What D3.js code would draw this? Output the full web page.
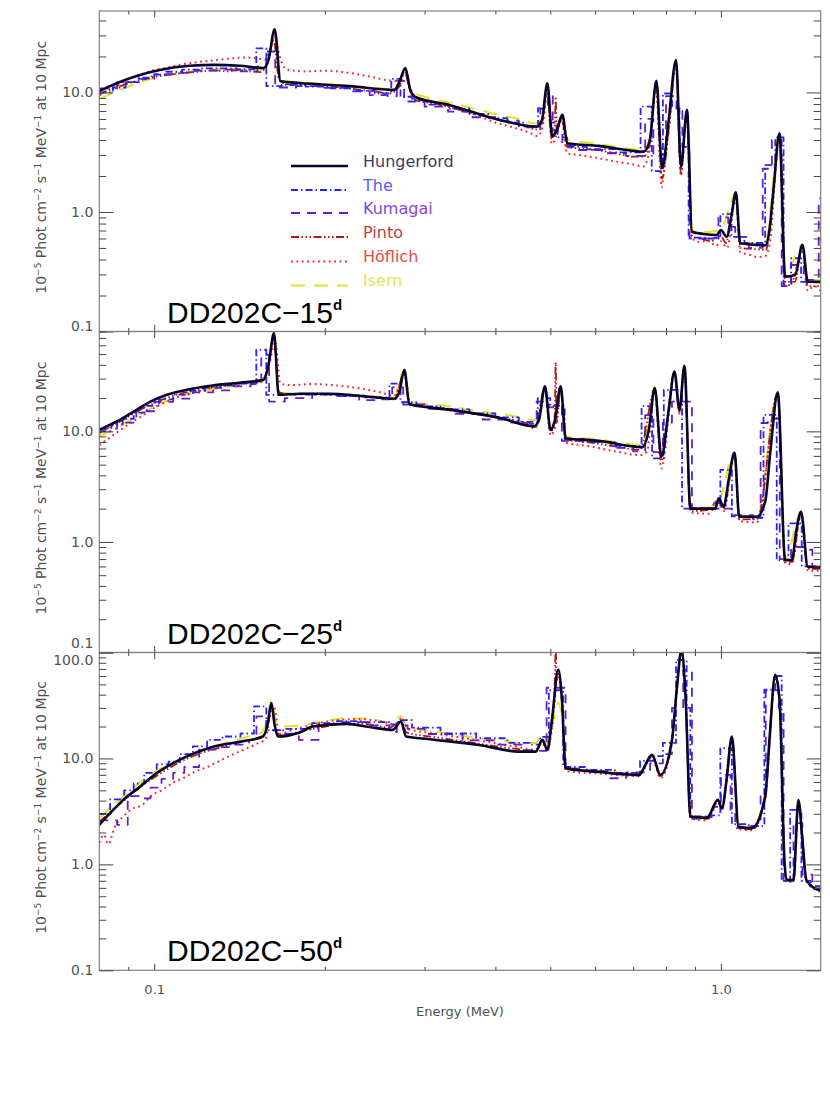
<!DOCTYPE html>
<html><head><meta charset="utf-8">
<script src="https://cdn.jsdelivr.net/npm/d3@7"></script>
<style>body{margin:0;background:#fff}svg{display:block}</style>
</head><body><svg id="c" width="830" height="1107"></svg>
<script>
// ---------------- DATA ----------------
const models = ["Hungerford","The","Kumagai","Pinto","Höflich","Isern"];
const panelNames = ["DD202C\u221215","DD202C\u221225","DD202C\u221250"];
const yMax = [48, 80, 100];
const xTicksMajor = [0.1, 1.0];
const xTicksMinor = [0.09,0.2,0.3,0.4,0.5,0.6,0.7,0.8,0.9];
const xTickLabels = ["0.1","1.0"];

// Panel 1: day 15  [energy MeV, flux]
const hung15 = [[0.080,10.3],[0.0836,11.3],[0.0888,12.7],[0.0944,14.0],[0.1023,15.4],[0.1155,16.7],[0.1279,17.0],[0.1416,16.7],[0.156,16.0],[0.1591,18.7],[0.1631,33.7],[0.1671,12.4],[0.1805,12.0],[0.2211,11.3],[0.2653,10.5],[0.2708,12.2],[0.2774,16.0],[0.283,10.5],[0.2889,9.16],[0.3317,7.86],[0.4061,5.89],[0.4736,5.18],[0.4834,5.89],[0.494,11.9],[0.504,4.27],[0.5136,4.85],[0.525,6.49],[0.5357,3.76],[0.609,3.57],[0.731,3.2],[0.749,4.0],[0.7695,12.5],[0.7874,2.32],[0.809,5.89],[0.8333,18.7],[0.8503,2.39],[0.8711,7.14],[0.889,0.684],[0.932,0.655],[0.9827,0.642],[1.0002,0.707],[1.0234,0.621],[1.0443,0.944],[1.0626,1.46],[1.0818,0.547],[1.197,0.525],[1.2167,0.676],[1.238,1.53],[1.2686,4.56],[1.2983,0.288],[1.352,0.297],[1.3927,0.53],[1.4233,0.261],[1.5,0.26]];
const the15 = [[0.08,10.0],[0.0845,11.0],[0.089,12.2],[0.094,13.3],[0.099,14.1],[0.105,14.9],[0.112,15.5],[0.120,15.9],[0.130,15.9],[0.140,15.6],[0.1514,23.4],[0.1577,11.3],[0.168,11.6],[0.185,11.2],[0.205,10.8],[0.225,10.3],[0.245,9.8],[0.262,13.0],[0.272,9.2],[0.285,8.6],[0.305,7.9],[0.33,7.3],[0.36,6.6],[0.39,6.1],[0.42,5.6],[0.45,5.2],[0.4757,7.4],[0.499,5.6],[0.515,4.2],[0.535,3.5],[0.58,3.35],[0.65,3.15],[0.7215,7.6],[0.755,2.2],[0.79,9.8],[0.82,7.6],[0.845,3.8],[0.877,0.61],[0.94,0.6],[0.998,0.96],[1.044,0.62],[1.10,0.55],[1.197,2.47],[1.247,4.2],[1.29,0.245],[1.33,0.41],[1.385,0.26],[1.5,0.26]];
const kum15 = [[0.08,10.8],[0.086,12.2],[0.093,13.0],[0.100,14.2],[0.108,14.6],[0.118,15.2],[0.13,15.5],[0.142,15.0],[0.152,16.5],[0.1577,22],[0.1635,11.0],[0.178,11.3],[0.20,10.9],[0.22,10.2],[0.24,9.5],[0.258,9.3],[0.268,12.5],[0.276,8.4],[0.30,7.6],[0.33,6.9],[0.36,6.2],[0.40,5.8],[0.44,5.1],[0.47,4.9],[0.48,7.3],[0.495,9.5],[0.505,4.8],[0.525,3.6],[0.56,3.3],[0.62,3.1],[0.68,2.95],[0.735,6.0],[0.76,3.0],[0.80,9.3],[0.835,7.0],[0.855,3.5],[0.88,0.60],[0.95,0.61],[0.99,0.9],[1.03,0.75],[1.06,0.62],[1.12,0.5],[1.185,2.3],[1.23,4.0],[1.28,0.24],[1.33,0.36],[1.4,0.27],[1.488,1.3],[1.5,1.3]];
const pinto15 = [[0.08,9.6],[0.083,10.4],[0.086,11.0],[0.09,11.9],[0.094,12.6],[0.098,13.1],[0.103,13.8],[0.108,14.2],[0.114,14.7],[0.12,14.9],[0.127,15.3],[0.134,15.0],[0.141,15.4],[0.148,15.0],[0.154,14.8],[0.158,17],[0.1625,27],[0.166,13],[0.170,11.8],[0.18,11.5],[0.19,11.8],[0.20,11.2],[0.215,11.0],[0.23,10.5],[0.245,10.2],[0.26,9.8],[0.27,11.0],[0.277,14.5],[0.283,10.0],[0.29,8.6],[0.31,8.1],[0.33,7.6],[0.36,6.8],[0.39,6.2],[0.42,5.7],[0.45,5.3],[0.47,4.9],[0.483,5.5],[0.493,10.8],[0.503,4.1],[0.509,4.6],[0.511,9.2],[0.513,4.8],[0.524,6.0],[0.535,3.5],[0.56,3.4],[0.6,3.3],[0.65,3.1],[0.7,2.9],[0.73,2.9],[0.748,3.6],[0.769,11.8],[0.787,1.9],[0.81,5.2],[0.833,17.8],[0.85,2.1],[0.87,6.8],[0.889,0.62],[0.92,0.6],[0.96,0.57],[1.0,0.63],[1.02,0.55],[1.062,1.38],[1.082,0.5],[1.14,0.49],[1.2,0.48],[1.238,1.45],[1.268,4.4],[1.298,0.26],[1.35,0.26],[1.392,0.5],[1.423,0.24],[1.5,0.24]];
const hoef15 = [[0.08,9.4],[0.083,10.8],[0.087,11.6],[0.09,13.0],[0.095,14.2],[0.1,15.4],[0.106,16.2],[0.112,17.2],[0.12,18.0],[0.128,18.6],[0.136,19.2],[0.145,19.6],[0.152,19.3],[0.157,18.8],[0.1605,24],[0.163,30],[0.1665,20],[0.171,15.6],[0.185,15.0],[0.20,15.2],[0.22,14.6],[0.24,13.6],[0.26,12.6],[0.27,12.5],[0.276,14.6],[0.283,10.8],[0.29,9.1],[0.31,8.4],[0.34,7.3],[0.37,6.5],[0.40,5.6],[0.43,5.1],[0.46,4.6],[0.475,4.3],[0.485,5.3],[0.494,10.0],[0.503,3.7],[0.512,4.3],[0.524,5.9],[0.535,3.1],[0.56,3.0],[0.6,2.85],[0.65,2.65],[0.7,2.5],[0.73,2.4],[0.748,3.3],[0.768,11.2],[0.786,1.6],[0.79,1.9],[0.81,5.0],[0.833,17.2],[0.85,2.0],[0.87,6.4],[0.889,0.6],[0.92,0.56],[0.95,0.58],[0.98,0.52],[1.0,0.57],[1.025,0.5],[1.062,1.3],[1.082,0.46],[1.12,0.44],[1.16,0.42],[1.2,0.43],[1.22,0.55],[1.268,4.2],[1.298,0.24],[1.33,0.25],[1.392,0.48],[1.423,0.22],[1.46,0.24],[1.5,0.22]];
const isern15 = [[0.08,8.8],[0.085,10.0],[0.09,11.2],[0.095,12.3],[0.1,13.2],[0.108,14.3],[0.116,15.0],[0.125,15.5],[0.135,15.8],[0.145,15.6],[0.155,15.5],[0.159,19],[0.163,30],[0.167,12.6],[0.18,12.2],[0.21,11.6],[0.24,10.9],[0.265,10.6],[0.277,15.2],[0.285,10.2],[0.3,9.2],[0.33,8.3],[0.36,7.5],[0.40,6.6],[0.44,6.0],[0.47,5.5],[0.483,6.3],[0.494,12.0],[0.504,4.5],[0.525,6.4],[0.536,4.0],[0.6,3.75],[0.7,3.35],[0.73,3.3],[0.749,4.1],[0.7695,12.3],[0.787,2.4],[0.833,18.2],[0.85,2.4],[0.871,7.0],[0.889,0.7],[0.95,0.68],[1.0,0.72],[1.0626,1.45],[1.082,0.57],[1.197,0.54],[1.2686,4.5],[1.2983,0.3],[1.392,0.53],[1.4233,0.27],[1.5,0.27]];

// Panel 2: day 25
const hung25 = [[0.080,10.3],[0.0836,11.5],[0.087,12.7],[0.0918,15.0],[0.0983,18.5],[0.1053,21.4],[0.1142,23.8],[0.1268,26.0],[0.1416,27.5],[0.156,29.3],[0.1591,40],[0.1627,77.3],[0.1658,21.4],[0.1805,21.9],[0.2039,21.9],[0.2302,21.0],[0.2653,19.7],[0.2708,22.8],[0.2763,36],[0.2819,17.7],[0.3317,15.7],[0.4061,13.3],[0.468,11.1],[0.4775,12.7],[0.4892,25.5],[0.5005,10.3],[0.5095,12.7],[0.5215,25.5],[0.5323,8.67],[0.609,8.2],[0.7259,7.2],[0.746,10.3],[0.7644,24.6],[0.7852,5.9],[0.809,15.7],[0.828,34.8],[0.845,15.7],[0.8622,39.2],[0.8834,2.0],[0.9775,2.0],[0.9907,2.48],[1.011,2.08],[1.032,3.64],[1.057,6.43],[1.0775,1.69],[1.157,1.69],[1.197,2.31],[1.2233,6.8],[1.26,22.5],[1.2983,0.686],[1.334,0.686],[1.359,1.28],[1.385,1.87],[1.4233,0.596],[1.5,0.59]];
const the25 = [[0.08,10.0],[0.084,11.6],[0.088,13.0],[0.092,14.8],[0.097,17.0],[0.102,19.5],[0.108,21.5],[0.115,23.2],[0.123,24.8],[0.132,26.0],[0.142,27.0],[0.1514,54.7],[0.1577,21.4],[0.168,21.6],[0.185,21.5],[0.21,21.0],[0.235,20.3],[0.26,27],[0.272,18.4],[0.29,16.8],[0.32,15.8],[0.36,14.5],[0.40,13.4],[0.44,12.2],[0.475,20],[0.50,17],[0.53,8.5],[0.58,8.0],[0.65,7.4],[0.7244,16.9],[0.756,5.7],[0.793,23.7],[0.854,2.0],[0.93,2.0],[0.9976,4.48],[1.0456,1.7],[1.12,1.65],[1.189,14.1],[1.2546,0.68],[1.316,1.47],[1.3886,0.6],[1.5,0.6]];
const kum25 = [[0.08,10.6],[0.086,12.0],[0.093,15.2],[0.1,18.5],[0.108,19.8],[0.117,22.5],[0.127,23.5],[0.138,25.5],[0.148,26.8],[0.1545,49.3],[0.1595,18.6],[0.17,20.0],[0.19,21.5],[0.21,20.8],[0.23,19.2],[0.25,19.5],[0.263,25],[0.275,17.5],[0.30,16.0],[0.34,14.4],[0.38,12.8],[0.42,12.0],[0.46,11.7],[0.473,18.6],[0.497,16.5],[0.524,8.2],[0.57,8.0],[0.64,7.1],[0.70,6.6],[0.735,14.0],[0.76,6.5],[0.79,12.0],[0.8196,18.6],[0.889,2.0],[0.94,2.0],[0.96,2.24],[0.9975,2.0],[1.05,1.75],[1.14,1.6],[1.175,11.9],[1.21,13],[1.27,0.7],[1.33,0.9],[1.403,0.85],[1.45,0.6],[1.5,0.6]];
const pinto25 = [[0.08,9.6],[0.083,10.8],[0.087,12.2],[0.091,14.0],[0.096,16.4],[0.1,18.0],[0.105,20.0],[0.11,21.6],[0.116,23.0],[0.122,24.5],[0.13,25.6],[0.138,26.5],[0.146,27.6],[0.154,28.5],[0.1585,36],[0.1625,70],[0.166,22.5],[0.175,21.5],[0.19,22.0],[0.21,21.6],[0.23,20.8],[0.25,20.0],[0.265,19.5],[0.2763,34],[0.282,17.5],[0.3,16.6],[0.33,15.5],[0.37,14.3],[0.41,13.2],[0.45,12.0],[0.47,11.0],[0.489,24.5],[0.5005,10.0],[0.509,11.5],[0.511,42],[0.513,12],[0.5215,24.5],[0.5323,8.4],[0.58,8.0],[0.65,7.3],[0.72,6.8],[0.7644,24],[0.785,5.4],[0.828,34],[0.845,15],[0.8622,38],[0.8834,1.9],[0.95,1.95],[0.99,2.4],[1.011,2.0],[1.057,6.2],[1.0775,1.6],[1.16,1.62],[1.26,22],[1.2983,0.66],[1.334,0.66],[1.385,1.8],[1.4233,0.57],[1.5,0.57]];
const hoef25 = [[0.08,7.5],[0.083,8.6],[0.087,10.2],[0.091,12.0],[0.096,14.2],[0.1,16.3],[0.105,18.5],[0.11,20.5],[0.117,22.5],[0.124,24.2],[0.132,25.6],[0.14,26.8],[0.148,28.0],[0.155,29.0],[0.1595,40],[0.1635,65],[0.167,27],[0.175,26.2],[0.19,26.8],[0.21,26.0],[0.23,24.5],[0.25,22.6],[0.265,21.0],[0.2765,33],[0.283,18.0],[0.3,17.0],[0.33,16.0],[0.37,14.5],[0.41,13.0],[0.45,11.8],[0.47,10.6],[0.489,23.5],[0.5005,9.2],[0.51,11.0],[0.5215,23.5],[0.533,7.9],[0.58,7.4],[0.65,6.6],[0.72,6.1],[0.74,6.5],[0.7644,23],[0.785,4.6],[0.79,5.0],[0.828,33],[0.845,14.5],[0.8622,38],[0.8834,1.85],[0.95,1.8],[0.99,2.3],[1.011,1.9],[1.057,6.0],[1.0775,1.55],[1.157,1.5],[1.26,21.5],[1.2983,0.64],[1.334,0.63],[1.385,1.75],[1.4233,0.55],[1.5,0.55]];
const isern25 = [[0.08,9.0],[0.085,10.5],[0.09,12.3],[0.095,14.5],[0.1,16.8],[0.106,19.0],[0.113,21.2],[0.12,22.8],[0.13,24.5],[0.14,26.0],[0.15,27.3],[0.157,28.5],[0.1625,72],[0.1665,22.3],[0.18,22.0],[0.21,21.6],[0.24,20.8],[0.265,20.2],[0.2763,36],[0.283,18.6],[0.33,16.9],[0.38,15.0],[0.43,13.8],[0.47,12.6],[0.4892,25],[0.5005,11],[0.5215,24],[0.533,9.0],[0.6,8.5],[0.7,7.6],[0.7259,7.4],[0.7644,25],[0.7852,6.1],[0.828,34],[0.845,16],[0.8622,38.5],[0.8834,2.05],[0.98,2.05],[1.057,6.3],[1.0775,1.72],[1.157,1.72],[1.26,22],[1.2983,0.7],[1.385,1.85],[1.4233,0.6],[1.5,0.6]];

// Panel 3: day 50
const hung50 = [[0.080,2.36],[0.0836,3.04],[0.0882,4.06],[0.0944,5.42],[0.101,7.26],[0.108,9.03],[0.114,10.4],[0.127,12.9],[0.1416,14.4],[0.1555,16.1],[0.1585,20.8],[0.161,33.4],[0.1631,20.8],[0.1653,16.1],[0.1805,17.6],[0.1906,20.0],[0.2183,21.2],[0.2397,19.8],[0.2635,18.6],[0.2726,22.3],[0.2782,16.1],[0.3058,15.2],[0.3745,13.4],[0.4404,11.6],[0.4711,11.6],[0.484,15.0],[0.494,12.1],[0.5033,23.2],[0.5164,68.7],[0.5242,35.8],[0.532,8.09],[0.609,7.47],[0.716,7.0],[0.756,10.8],[0.782,7.0],[0.8197,15.0],[0.8356,44.5],[0.852,106],[0.8667,35.8],[0.8834,2.83],[0.945,2.75],[0.988,4.06],[1.004,3.39],[1.0234,6.28],[1.0456,16.1],[1.0744,2.27],[1.134,2.2],[1.197,4.36],[1.218,15.0],[1.247,61.7],[1.269,35.8],[1.2944,1.1],[1.3053,0.71],[1.343,0.71],[1.3699,4.05],[1.3927,1.7],[1.4155,0.71],[1.49,0.573],[1.5,0.57]];
const the50 = [[0.08,3.0],[0.0836,4.1],[0.0885,5.0],[0.092,5.8],[0.096,7.3],[0.101,8.8],[0.106,9.3],[0.111,11.0],[0.117,13.0],[0.124,15.0],[0.132,16.1],[0.142,17.2],[0.150,31],[0.1577,18.4],[0.17,19.0],[0.19,21.5],[0.21,22.5],[0.235,22.0],[0.26,21.0],[0.27,23],[0.285,19.5],[0.32,17.2],[0.37,15.5],[0.42,14.0],[0.46,13.5],[0.48,16],[0.497,44],[0.527,8.3],[0.58,7.8],[0.65,7.3],[0.72,9.5],[0.76,10.5],[0.79,14],[0.8333,85],[0.87,30],[0.883,2.83],[0.95,2.9],[0.9976,12.5],[1.0456,2.4],[1.12,2.3],[1.193,44.5],[1.247,60],[1.28,0.7],[1.325,3.27],[1.387,0.7],[1.44,0.62],[1.5,0.6]];
const kum50 = [[0.08,2.6],[0.086,2.36],[0.0898,4.4],[0.094,4.2],[0.0985,5.3],[0.103,6.4],[0.108,7.3],[0.113,8.3],[0.12,12.1],[0.13,12.8],[0.138,13.5],[0.147,15.0],[0.1515,25],[0.1577,18.5],[0.168,17.0],[0.18,15.0],[0.195,21.0],[0.215,22.0],[0.24,20.5],[0.26,17.8],[0.268,20.5],[0.28,19.0],[0.30,17.0],[0.35,14.8],[0.40,13.5],[0.45,12.0],[0.47,11.8],[0.4925,46.5],[0.532,8.0],[0.58,7.6],[0.63,6.5],[0.68,7.4],[0.75,9.0],[0.79,11],[0.8196,30],[0.858,68],[0.889,2.7],[0.94,2.8],[0.97,3.5],[1.0,7.0],[1.04,3.0],[1.06,2.2],[1.12,2.3],[1.175,4.5],[1.2,44],[1.265,30],[1.29,0.7],[1.343,2.45],[1.3927,0.8],[1.45,0.62],[1.5,0.6]];
const pinto50 = [[0.08,2.5],[0.084,3.2],[0.088,3.9],[0.092,4.8],[0.096,5.7],[0.1,6.6],[0.105,7.8],[0.11,9.0],[0.116,10.3],[0.122,11.4],[0.13,12.6],[0.138,13.8],[0.146,14.8],[0.154,15.6],[0.158,19],[0.161,31],[0.164,18],[0.168,16.5],[0.18,17.8],[0.2,20.0],[0.22,21.5],[0.24,21.0],[0.26,19.5],[0.2726,22.5],[0.279,17.5],[0.31,16.0],[0.36,14.2],[0.41,12.8],[0.45,12.0],[0.4711,11.5],[0.484,14.5],[0.494,12.0],[0.5033,22],[0.509,50],[0.511,115],[0.513,55],[0.5164,65],[0.5242,34],[0.532,8.0],[0.609,7.4],[0.716,6.9],[0.756,10.5],[0.782,6.8],[0.8197,14.5],[0.8356,43],[0.852,104],[0.8667,35],[0.8834,2.75],[0.945,2.7],[0.988,4.0],[1.004,3.3],[1.0456,15.6],[1.0744,2.2],[1.134,2.15],[1.197,4.2],[1.247,60],[1.269,35],[1.2944,1.05],[1.3053,0.7],[1.343,0.7],[1.3699,3.9],[1.4155,0.7],[1.5,0.56]];
const hoef50 = [[0.08,1.6],[0.0815,1.9],[0.083,1.55],[0.085,2.2],[0.088,2.8],[0.092,3.4],[0.095,3.6],[0.099,4.5],[0.103,5.0],[0.108,5.9],[0.113,6.6],[0.118,7.5],[0.124,8.3],[0.13,9.4],[0.137,10.8],[0.145,12.3],[0.152,13.8],[0.157,15.2],[0.1605,26],[0.163,30],[0.166,17],[0.175,18.5],[0.19,20.8],[0.21,23.0],[0.23,23.5],[0.25,22.5],[0.265,21.0],[0.274,24],[0.28,19.0],[0.31,17.3],[0.36,15.3],[0.41,13.6],[0.45,12.5],[0.4711,12.0],[0.484,14.0],[0.494,11.5],[0.5033,19],[0.5164,60],[0.5242,33],[0.532,7.6],[0.609,7.2],[0.716,6.8],[0.756,10.2],[0.782,6.5],[0.8197,14],[0.8356,42],[0.852,100],[0.8667,34],[0.8834,2.7],[0.945,2.6],[0.988,3.9],[1.004,3.2],[1.0456,15.2],[1.0744,2.15],[1.134,2.1],[1.197,4.1],[1.247,58],[1.269,34],[1.2944,1.0],[1.3053,0.68],[1.343,0.68],[1.3699,3.8],[1.4155,0.68],[1.5,0.55]];
const isern50 = [[0.08,2.7],[0.084,3.5],[0.088,4.3],[0.092,5.3],[0.096,6.4],[0.1,7.4],[0.105,8.5],[0.11,9.6],[0.116,10.9],[0.122,12.0],[0.13,13.4],[0.138,14.6],[0.146,16.0],[0.154,17.3],[0.158,22],[0.161,35.2],[0.164,22],[0.168,20.0],[0.18,20.5],[0.2,22.5],[0.22,24.0],[0.24,23.5],[0.26,22.0],[0.2726,25],[0.279,20.0],[0.31,18.2],[0.36,16.0],[0.41,14.6],[0.45,14.0],[0.4711,14.0],[0.484,17.0],[0.494,14.0],[0.5033,20],[0.5164,33.6],[0.5242,25],[0.532,8.3],[0.609,7.7],[0.716,7.1],[0.756,10.8],[0.782,7.0],[0.8197,15],[0.8356,44],[0.852,104],[0.8667,35],[0.8834,2.85],[0.945,2.8],[0.988,4.1],[1.004,3.4],[1.0456,16],[1.0744,2.3],[1.134,2.25],[1.197,4.4],[1.247,61],[1.269,35],[1.2944,1.1],[1.3053,0.72],[1.343,0.72],[1.3699,4.0],[1.4155,0.72],[1.5,0.58]];

const panelSeries = [
  [hung15, the15, kum15, pinto15, hoef15, isern15],
  [hung25, the25, kum25, pinto25, hoef25, isern25],
  [hung50, the50, kum50, pinto50, hoef50, isern50]
];

// ---------------- STYLE / LAYOUT ----------------
const W = 830, H = 1107;
const L = 99.3, R = 820.7;
const panelTop = [11, 331.5, 652.5];
const panelBot = [331.5, 652.5, 970.3];
const lineColor = {"Hungerford":"#06062a","The":"#2424ff","Kumagai":"#6a1cc6","Pinto":"#b01818","Höflich":"#ff2424","Isern":"#e2e22a"};
const textColor = {"Hungerford":"#3a3a62","The":"#5a5aff","Kumagai":"#8448d6","Pinto":"#c23c3c","Höflich":"#ee4848","Isern":"#e4e44e"};
const lineDash = {"Hungerford":null,"The":"7,3,1.5,3","Kumagai":"9,7","Pinto":"8,2.5,1.5,2.5,1.5,2.5,1.5,2.5","Höflich":"1.8,3.6","Isern":"14,9"};
const lineWidth = {"Hungerford":2.6,"The":1.8,"Kumagai":1.8,"Pinto":1.8,"Höflich":2.0,"Isern":2.0};
const drawOrder = ["Isern","Höflich","Pinto","Kumagai","The","Hungerford"];
const axisColor = "#444";
const frameColor = "#808080";
const labelColor = "#505050";

const svg = d3.select("#c");
svg.append("rect").attr("width",W).attr("height",H).attr("fill","#fff");

const x = d3.scaleLog().domain([0.08,1.5]).range([L,R]);

function yMinorTicks(max){
  const t=[];
  [0.1,1,10,100].forEach(d=>{for(let k=1;k<10;k++){const v=d*k; if(v<=max*1.0001 && v>=0.1) t.push(v);}});
  return t;
}

panelSeries.forEach((series,pi)=>{
  const top=panelTop[pi], bot=panelBot[pi];
  const y = d3.scaleLog().domain([0.1,yMax[pi]]).range([bot,top]);
  const g = svg.append("g");
  const clipId = "clip"+pi;
  svg.append("clipPath").attr("id",clipId).append("rect")
    .attr("x",L).attr("y",top).attr("width",R-L).attr("height",bot-top);

  // series
  const plot = g.append("g").attr("clip-path",`url(#${clipId})`);
  drawOrder.forEach(name=>{
    const idx = models.indexOf(name);
    const data = series[idx];
    const step = (name==="The"||name==="Kumagai");
    const line = d3.line().x(d=>x(d[0])).y(d=>y(d[1]))
      .curve(step? d3.curveStepAfter : d3.curveMonotoneX);
    plot.append("path").datum(data)
      .attr("d",line).attr("fill","none")
      .attr("stroke",lineColor[name]).attr("stroke-width",lineWidth[name])
      .attr("stroke-dasharray",lineDash[name])
      .attr("stroke-linejoin","round");
  });

  // frame
  g.append("rect").attr("x",L).attr("y",top).attr("width",R-L).attr("height",bot-top)
    .attr("fill","none").attr("stroke",frameColor).attr("stroke-width",1.2);

  const allY = yMinorTicks(yMax[pi]);
  const majY = allY.filter(v=>[0.1,1,10,100].includes(+v.toPrecision(3)));
  const minY = allY.filter(v=>!majY.includes(v));

  const styleAxis = sel=>{
    sel.select(".domain").remove();
    sel.selectAll(".tick line").attr("stroke",axisColor).attr("stroke-width",1);
    sel.selectAll(".tick text").attr("fill",labelColor)
      .attr("font-family","DejaVu Sans, sans-serif");
  };
  // left
  g.append("g").attr("transform",`translate(${L},0)`)
    .call(d3.axisLeft(y).tickValues(minY).tickSize(-7).tickFormat("")).call(styleAxis);
  const ly = g.append("g").attr("transform",`translate(${L},0)`)
    .call(d3.axisLeft(y).tickValues(majY).tickSize(-14).tickPadding(6).tickFormat(d=>d.toFixed(1)))
    .call(styleAxis);
  ly.selectAll(".tick text").attr("font-size",14)
    .attr("dy",d=>{
      if (Math.abs(d-0.1)<1e-9 && pi===1) return "-0.38em";
      if (Math.abs(d-0.1)<1e-9 && pi===0) return "-0.05em";
      if (Math.abs(d-100)<1e-9) return "0.88em";
      return "0.32em";
    });
  // right
  g.append("g").attr("transform",`translate(${R},0)`)
    .call(d3.axisRight(y).tickValues(minY).tickSize(-7).tickFormat("")).call(styleAxis);
  g.append("g").attr("transform",`translate(${R},0)`)
    .call(d3.axisRight(y).tickValues(majY).tickSize(-14).tickFormat("")).call(styleAxis);
  // top
  g.append("g").attr("transform",`translate(0,${top})`)
    .call(d3.axisTop(x).tickValues(xTicksMinor).tickSize(-3.5).tickFormat("")).call(styleAxis);
  g.append("g").attr("transform",`translate(0,${top})`)
    .call(d3.axisTop(x).tickValues(xTicksMajor).tickSize(-6.5).tickFormat("")).call(styleAxis);
  // bottom
  g.append("g").attr("transform",`translate(0,${bot})`)
    .call(d3.axisBottom(x).tickValues(xTicksMinor).tickSize(-3.5).tickFormat("")).call(styleAxis);
  const bx = g.append("g").attr("transform",`translate(0,${bot})`)
    .call(d3.axisBottom(x).tickValues(xTicksMajor).tickSize(-6.5).tickPadding(14)
      .tickFormat((d,i)=> pi===2 ? xTickLabels[i] : ""))
    .call(styleAxis);
  bx.selectAll(".tick text").attr("font-size",13);

  // y-axis title
  const cy = (top+bot)/2 - 4;
  const t = g.append("text").attr("transform",`translate(46,${cy}) rotate(-90)`)
    .attr("text-anchor","middle").attr("font-family","DejaVu Sans, sans-serif")
    .attr("font-size",14).attr("fill",labelColor);
  t.append("tspan").text("10");
  t.append("tspan").attr("dy",-5).attr("font-size",9).text("\u22125");
  t.append("tspan").attr("dy",5).text(" Phot cm");
  t.append("tspan").attr("dy",-5).attr("font-size",9).text("\u22122");
  t.append("tspan").attr("dy",5).text(" s");
  t.append("tspan").attr("dy",-5).attr("font-size",9).text("\u22121");
  t.append("tspan").attr("dy",5).text(" MeV");
  t.append("tspan").attr("dy",-5).attr("font-size",9).text("\u22121");
  t.append("tspan").attr("dy",5).text(" at 10 Mpc");

  // panel label
  const pl = g.append("text").attr("x",167).attr("y",bot-9)
    .attr("font-family","Liberation Sans, Arial, sans-serif").attr("font-size",30)
    .attr("fill","#000");
  pl.append("tspan").text(panelNames[pi]);
  pl.append("tspan").attr("dy",-13).attr("font-size",15).attr("font-weight","bold").text("d");
});

// x-axis title
svg.append("text").attr("x",460).attr("y",1016).attr("text-anchor","middle")
  .attr("font-family","DejaVu Sans, sans-serif").attr("font-size",13)
  .attr("fill",labelColor).text("Energy (MeV)");

// legend (panel 1)
const legY = [166,190,213,237,261.5,285.5];
const leg = svg.append("g");
models.forEach((name,i)=>{
  leg.append("line").attr("x1",291).attr("x2",348).attr("y1",legY[i]).attr("y2",legY[i])
    .attr("stroke",lineColor[name]).attr("stroke-width",lineWidth[name])
    .attr("stroke-dasharray",lineDash[name]);
  leg.append("text").attr("x",363).attr("y",legY[i]+0.5)
    .attr("font-family","DejaVu Sans, sans-serif").attr("font-size",16)
    .attr("fill",textColor[name]).text(name);
});
</script>
</body></html>
